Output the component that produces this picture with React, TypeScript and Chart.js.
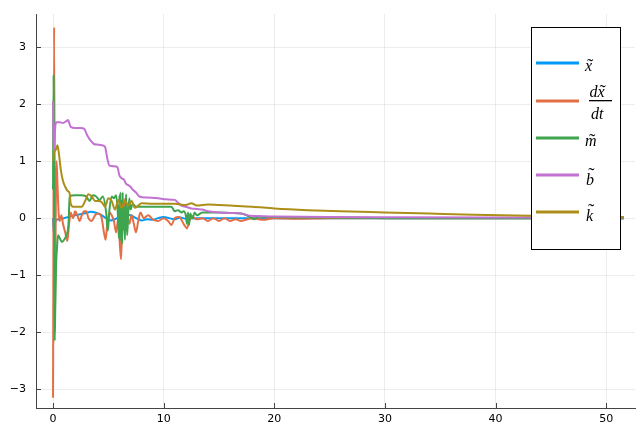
import React, { useEffect, useRef } from 'react';
import { Chart, registerables } from 'chart.js';

Chart.register(...registerables);

const xTicks = [0, 10, 20, 30, 40, 50];
const yTicks = [-3, -2, -1, 0, 1, 2, 3];
const seriesColors = ['#009AFA', '#E36F47', '#3EA44E', '#C371D2', '#AC8E18'];
const seriesLabels = ['x̃', 'dx̃/dt', 'm̃', 'b̃', 'k̃'];

// [t, value]
const xTilde = [
  [0, 0], [0.05, -0.25], [0.15, -0.12], [0.3, -0.03], [0.6, -0.02], [1.0, 0.0], [1.5, 0.03], [2.0, 0.05],
  [2.5, 0.07], [3.0, 0.09], [3.4, 0.11], [3.8, 0.1], [4.3, 0.06], [4.8, 0.0], [5.2, -0.04], [5.6, -0.02],
  [6.0, 0.02], [6.5, 0.06], [7.0, 0.05], [7.5, 0.0], [8.0, -0.04], [8.5, -0.02], [9.0, -0.03], [9.5, 0.0],
  [10, 0.02], [10.5, 0.0], [11, -0.02], [11.5, 0.01], [12, -0.01], [13, 0.0], [14, 0.0], [16, 0.0],
  [20, 0.0], [30, 0.0], [40, 0.0], [51.6, 0.0],
];

const dxdtTilde = [
  [0, -3.15], [0.1, 3.35], [0.18, -1.55], [0.25, 0.2], [0.32, 1.0], [0.4, 0.6], [0.5, 0.1], [0.6, -0.05],
  [0.75, 0.05], [0.9, -0.1], [1.1, -0.25], [1.3, -0.4], [1.45, -0.1], [1.6, 0.1], [1.8, 0.0], [2.0, 0.12],
  [2.2, 0.05], [2.4, -0.05], [2.6, 0.05], [2.8, 0.12], [3.0, 0.12], [3.2, 0.0], [3.5, -0.05], [3.8, 0.05],
  [4.1, 0.08], [4.4, 0.0], [4.6, -0.25], [4.75, -0.38], [4.9, -0.1], [5.1, 0.1], [5.3, 0.05], [5.5, -0.05],
  [5.7, -0.25], [5.9, 0.0], [6.05, -0.5], [6.15, -0.72], [6.25, -0.1], [6.4, 0.2], [6.55, 0.35], [6.7, 0.1],
  [6.9, -0.1], [7.1, 0.05], [7.3, -0.1], [7.5, -0.25], [7.7, -0.05], [7.9, 0.1], [8.2, 0.0], [8.6, 0.05],
  [9.0, -0.02], [9.5, -0.05], [10, 0.0], [10.4, -0.05], [10.7, -0.12], [11.0, 0.0], [11.4, 0.02], [11.8, -0.1],
  [12.1, -0.18], [12.3, -0.05], [12.6, 0.02], [13, -0.02], [13.5, 0.0], [14, -0.05], [14.5, 0.0], [15, -0.05],
  [15.5, 0.0], [16, -0.05], [16.5, -0.02], [17, -0.05], [18, 0.0], [19, -0.03], [20, 0.0], [22, -0.01],
  [25, 0.0], [30, 0.0], [40, 0.0], [51.6, 0.0],
];

const mTilde = [
  [0, 0.5], [0.05, 2.5], [0.1, 1.0], [0.15, -2.15], [0.2, -1.6], [0.28, -0.8], [0.35, -0.55], [0.45, -0.3],
  [0.6, -0.35], [0.8, -0.42], [1.0, -0.38], [1.2, -0.3], [1.4, -0.1], [1.5, 0.38], [2.0, 0.4], [2.5, 0.4],
  [3.0, 0.38], [3.3, 0.3], [3.6, 0.4], [3.9, 0.38], [4.2, 0.32], [4.5, 0.38], [4.8, 0.1], [4.95, -0.22],
  [5.1, 0.15], [5.3, 0.38], [5.5, 0.35], [5.7, 0.4], [5.85, 0.1], [5.95, -0.35], [6.0, 0.4], [6.05, -0.4],
  [6.1, 0.45], [6.15, -0.3], [6.2, 0.3], [6.25, -0.45], [6.3, 0.45], [6.35, -0.2], [6.4, 0.2], [6.5, -0.38],
  [6.6, 0.42], [6.7, -0.3], [6.8, 0.1], [6.9, 0.35], [7.0, 0.15], [7.2, 0.25], [7.5, 0.2], [8.0, 0.2],
  [9.0, 0.2], [10.0, 0.2], [10.7, 0.2], [11.0, 0.12], [11.3, 0.14], [11.6, 0.1], [11.8, 0.12], [12.0, 0.05],
  [12.1, -0.1], [12.2, 0.1], [12.3, -0.12], [12.4, 0.08], [12.6, 0.0], [12.8, 0.1], [13.0, 0.05], [13.5, 0.1],
  [14, 0.1], [15, 0.1], [16, 0.09], [17, 0.08], [17.5, 0.05], [17.8, 0.02], [18.2, -0.02], [18.6, 0.03],
  [19, 0.02], [20, 0.02], [22, 0.01], [25, 0.01], [30, 0.0], [40, 0.0], [51.6, 0.0],
];

const bTilde = [
  [0, 2.05], [0.08, 1.1], [0.2, 1.6], [0.3, 1.68], [0.6, 1.68], [0.9, 1.67], [1.2, 1.7], [1.35, 1.72],
  [1.6, 1.6], [2.0, 1.58], [2.5, 1.58], [2.8, 1.57], [3.1, 1.45], [3.4, 1.36], [3.7, 1.3], [4.0, 1.29],
  [4.4, 1.28], [4.7, 1.25], [4.9, 1.05], [5.1, 0.92], [5.5, 0.91], [5.8, 0.9], [6.0, 0.75], [6.2, 0.7],
  [6.4, 0.68], [6.6, 0.6], [6.8, 0.58], [7.0, 0.55], [7.2, 0.5], [7.5, 0.45], [7.8, 0.38], [8.5, 0.36],
  [9.5, 0.35], [10.2, 0.33], [11.0, 0.32], [11.3, 0.27], [11.6, 0.22], [12.0, 0.2], [12.5, 0.17], [13.0, 0.16],
  [13.5, 0.15], [14.0, 0.12], [15, 0.1], [16, 0.09], [17, 0.08], [17.8, 0.04], [20, 0.03], [25, 0.02],
  [30, 0.015], [40, 0.01], [51.6, 0.01],
];

const kTilde = [
  [0, 1.0], [0.1, 1.15], [0.25, 1.2], [0.4, 1.28], [0.55, 1.1], [0.7, 0.85], [0.9, 0.65], [1.1, 0.55],
  [1.3, 0.48], [1.5, 0.43], [1.6, 0.25], [1.8, 0.2], [2.2, 0.2], [2.6, 0.2], [2.9, 0.3], [3.2, 0.42],
  [3.5, 0.38], [3.8, 0.3], [4.1, 0.3], [4.4, 0.28], [4.7, 0.2], [5.0, 0.35], [5.3, 0.3], [5.6, 0.15],
  [5.9, 0.32], [6.2, 0.18], [6.5, 0.3], [6.8, 0.22], [7.1, 0.3], [7.4, 0.18], [7.7, 0.22], [8.0, 0.26],
  [9, 0.25], [10, 0.25], [11, 0.25], [12, 0.23], [12.5, 0.26], [13, 0.22], [14, 0.24], [15, 0.23],
  [16, 0.22], [18, 0.2], [20, 0.17], [23, 0.14], [26, 0.12], [30, 0.1], [34, 0.08], [38, 0.06],
  [43, 0.04], [47, 0.03], [51.6, 0.02],
];

const allSeries = [xTilde, dxdtTilde, mTilde, bTilde, kTilde];

const SERIF = '"Liberation Serif", "DejaVu Serif", serif';

function drawTilded(ctx: CanvasRenderingContext2D, s: string, x: number, base: number, raise: number) {
  ctx.font = `italic 16px ${SERIF}`;
  ctx.textAlign = 'left';
  ctx.fillText(s, x, base);
  const w = ctx.measureText(s).width;
  ctx.font = `19px ${SERIF}`;
  ctx.textAlign = 'center';
  ctx.fillText('\u02DC', x + w / 2 + 1.5, base - raise + 1);
  ctx.textAlign = 'left';
  return w;
}

const decorPlugin = {
  id: 'juliaDecor',
  afterDraw(chart: any) {
    const ctx: CanvasRenderingContext2D = chart.ctx;
    const area = chart.chartArea;
    const xs = chart.scales.x;
    const ys = chart.scales.y;
    ctx.save();
    // inward tick marks
    ctx.strokeStyle = '#444';
    ctx.lineWidth = 1;
    ctx.beginPath();
    yTicks.forEach((v) => {
      const p = Math.round(ys.getPixelForValue(v)) + 0.5;
      ctx.moveTo(area.left, p);
      ctx.lineTo(area.left + 5, p);
    });
    xTicks.forEach((v) => {
      const p = Math.round(xs.getPixelForValue(v)) + 0.5;
      ctx.moveTo(p, area.bottom);
      ctx.lineTo(p, area.bottom - 5);
    });
    ctx.stroke();

    // legend
    const bx = 531.5, by = 27.5, bw = 89, bh = 222;
    ctx.fillStyle = '#fff';
    ctx.fillRect(bx, by, bw, bh);
    ctx.strokeStyle = '#000';
    ctx.lineWidth = 1;
    ctx.strokeRect(bx, by, bw, bh);
    const rowY = [63, 101, 138, 175, 212];
    chart.data.datasets.forEach((ds: any, i: number) => {
      ctx.strokeStyle = ds.borderColor;
      ctx.lineWidth = 3;
      ctx.beginPath();
      ctx.moveTo(536, rowY[i]);
      ctx.lineTo(579, rowY[i]);
      ctx.stroke();
    });
    ctx.fillStyle = '#000';
    ctx.textBaseline = 'alphabetic';
    drawTilded(ctx, 'x', 585, 71, 0);
    // fraction d x̃ / d t
    ctx.font = `italic 16px ${SERIF}`;
    const dW = ctx.measureText('d').width;
    ctx.fillText('d', 589.5, 97);
    drawTilded(ctx, 'x', 589.5 + dW, 97, 0);
    ctx.fillRect(589, 100, 23, 1.3);
    ctx.font = `italic 16px ${SERIF}`;
    ctx.fillText('dt', 591, 119);
    drawTilded(ctx, 'm', 585, 146, 0);
    drawTilded(ctx, 'b', 586, 185, 5);
    drawTilded(ctx, 'k', 586, 221, 5);
    ctx.restore();
  },
};

export default function App() {
  const ref = useRef<HTMLCanvasElement | null>(null);
  useEffect(() => {
    if (!ref.current) return;
    Chart.defaults.font.family = '"DejaVu Sans", sans-serif';
    const chart = new Chart(ref.current, {
      type: 'scatter',
      data: {
        datasets: allSeries.map((s, i) => ({
          label: seriesLabels[i],
          data: s.map(([t, v]) => ({ x: t, y: v })),
          borderColor: seriesColors[i],
          backgroundColor: seriesColors[i],
          borderWidth: 2,
          showLine: true,
          pointRadius: 0,
          pointHoverRadius: 0,
          cubicInterpolationMode: 'monotone' as const,
          order: allSeries.length - 1 - i,
        })),
      },
      options: {
        animation: false,
        responsive: false,
        devicePixelRatio: 1,
        events: [],
        layout: { padding: { left: 0, top: 14, right: 2, bottom: 0 } },
        plugins: { legend: { display: false }, tooltip: { enabled: false } },
        scales: {
          x: {
            type: 'linear',
            min: -1.54,
            max: 52.6,
            afterBuildTicks: (sc: any) => { sc.ticks = xTicks.map((v) => ({ value: v })); },
            afterFit: (sc: any) => { sc.height = 19; sc.paddingLeft = 0; sc.paddingRight = 0; },
            grid: { color: 'rgba(0,0,0,0.07)', lineWidth: 1, drawTicks: false },
            border: { display: true, color: '#444', width: 1 },
            ticks: { color: '#000', font: { size: 11 }, padding: 5, maxRotation: 0, callback: (v: any) => String(v) },
          },
          y: {
            type: 'linear',
            min: -3.33,
            max: 3.58,
            afterBuildTicks: (sc: any) => { sc.ticks = yTicks.map((v) => ({ value: v })); },
            afterFit: (sc: any) => { sc.width = 36; sc.paddingTop = 0; sc.paddingBottom = 0; },
            grid: { color: 'rgba(0,0,0,0.07)', lineWidth: 1, drawTicks: false },
            border: { display: true, color: '#444', width: 1 },
            ticks: {
              color: '#000',
              font: { size: 11 },
              padding: 10,
              callback: (v: any) => (v < 0 ? '\u2212' + Math.abs(v) : String(v)),
            },
          },
        },
      },
      plugins: [decorPlugin],
    } as any);
    return () => chart.destroy();
  }, []);
  return (
    <div style={{ position: 'fixed', left: 0, top: 0, width: 637, height: 427, background: '#fff' }}>
      <canvas ref={ref} width={637} height={427} style={{ display: 'block' }} />
    </div>
  );
}
